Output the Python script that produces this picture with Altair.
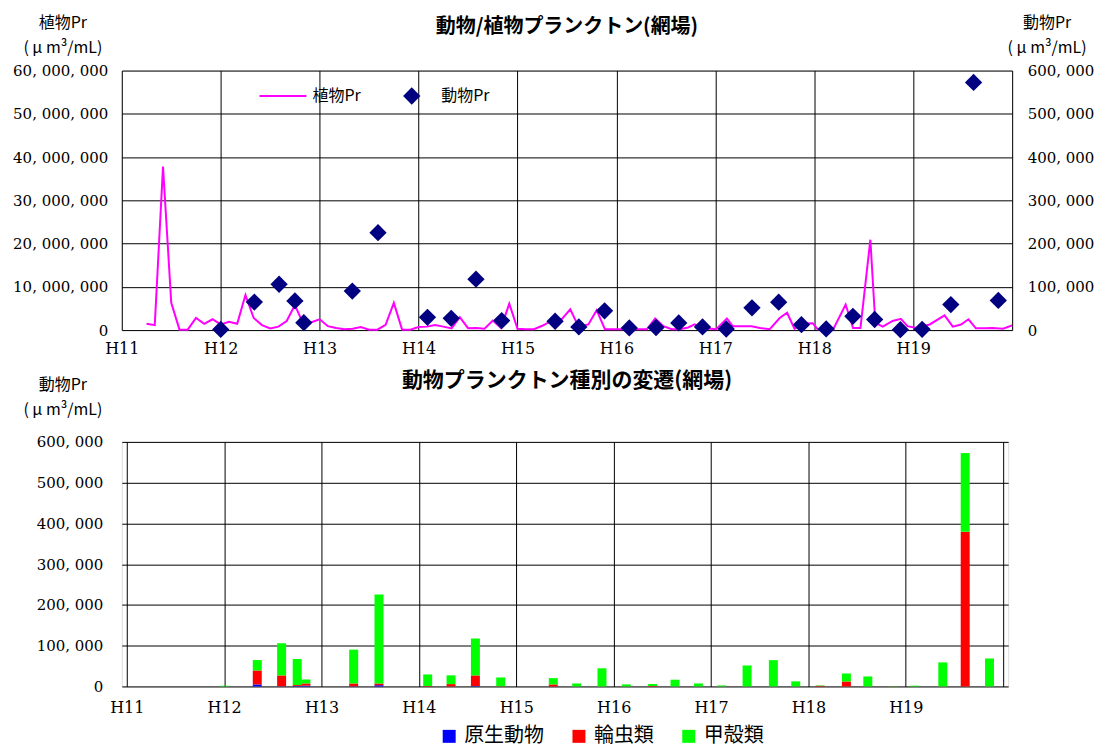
import altair as alt
import pandas as pd

# ---------------- data ----------------
# phytoplankton: month offset from H11 start, value (μm3/mL)
plant_month = [3, 4, 5, 6, 7, 8, 9, 10, 11, 12, 13, 14, 15, 16, 17, 18, 19, 20, 21, 22,
               23, 24, 25, 26, 27, 28, 29, 30, 31, 32, 33, 34, 35, 36, 37, 38, 39, 40, 41, 42,
               43, 44, 45, 46, 47, 48, 49, 50,
               51.0, 52.0, 53.4, 54.4, 55.4, 56.6, 57.6, 58.6, 59.6, 60.6, 61.6, 62.6, 63.7,
               64.7, 65.7, 66.7, 67.7, 68.7, 69.5, 70.5, 71.5, 72.1, 73.4, 74.1, 75.2, 76.4,
               77.4, 78.6, 79.8, 80.7, 81.6, 82.6, 83.8, 84.4, 85.4, 86.3, 87.8, 88.7, 89.6,
               90.8, 91.4, 92.3, 93.5, 94.5, 95.3, 96.4, 97.2, 98.0, 99.8, 100.8, 101.8, 102.7,
               103.6, 104.6, 105.6, 106.9, 108.0]
plant_value = [1450000, 1150000, 37800000, 6300000, 100000, 100000, 2800000, 1450000, 2500000, 1300000,
               1900000, 1450000, 8100000, 2800000, 1150000, 400000, 800000, 2100000, 5800000, 1500000,
               1800000, 2500000, 900000, 500000, 200000, 300000, 700000, 100000, 100000, 1200000,
               6300000, 100000, 100000, 700000, 800000, 1150000, 800000, 400000, 3000000, 450000,
               500000, 300000, 2200000, 500000, 6100000, 300000, 200000, 200000,
               1000000, 2000000, 2600000, 4800000, 800000, 1300000, 4600000, 200000, 200000, 200000,
               200000, 200000, 200000, 2700000, 900000, 200000, 200000, 600000, 1300000, 300000,
               300000, 200000, 2700000, 900000, 900000, 900000, 500000, 200000, 2800000, 4000000,
               300000, 1500000, 1600000, 200000, 200000, 200000, 5900000, 500000, 500000, 20900000,
               1700000, 800000, 2100000, 2600000, 900000, 500000, 900000, 1300000, 3400000, 800000,
               1300000, 2500000, 400000, 400000, 500000, 300000, 1100000]

# zooplankton sampling dates (year, H-era) and composition (μm3/mL)
zoo_date = [12.00, 12.34, 12.59, 12.75, 12.84, 13.33, 13.59, 14.09, 14.33, 14.58,
            14.84, 15.38, 15.62, 15.88, 16.13, 16.40, 16.63, 16.87, 17.11, 17.37,
            17.64, 17.87, 18.12, 18.39, 18.61, 18.87, 19.09, 19.38, 19.61, 19.86]
protozoa = [0, 4900, 500, 1000, 2000, 500, 3000, 0, 0, 1000,
            0, 0, 0, 0, 0, 0, 0, 0, 0, 0,
            0, 0, 0, 0, 0, 0, 0, 0, 0, 0]
rotifer = [0, 34300, 26500, 2300, 5300, 6800, 4300, 1000, 5700, 26000,
           500, 4900, 0, 0, 0, 1000, 0, 0, 0, 0,
           0, 0, 1600, 12200, 0, 300, 0, 0, 379600, 0]
crustacean = [1600, 25500, 79000, 64000, 9800, 83000, 218000, 28400, 21500, 90600,
              21500, 15500, 7300, 44500, 5000, 5000, 16500, 7300, 2500, 51400,
              64500, 12500, 1000, 19600, 24500, 700, 1800, 59000, 193000, 68600]

years = [11, 12, 13, 14, 15, 16, 17, 18, 19, 20]
left_ticks = [0, 10000000, 20000000, 30000000, 40000000, 50000000, 60000000]
right_ticks = [0, 100000, 200000, 300000, 400000, 500000, 600000]
species = ["原生動物", "輪虫類", "甲殻類"]
species_colors = ["#0000FF", "#FF0000", "#00FF00"]

SANS = "Noto Sans CJK JP"
SERIF = "DejaVu Serif"
W_TOP, H_TOP = 892, 260
W_BOT, H_BOT = 888, 245

# ---------------- tables ----------------
plant_df = pd.DataFrame({"t": [11 + m / 12 for m in plant_month],
                         "v": plant_value,
                         "s": ["植物Pr"] * len(plant_month)})
zoo_total = [a + b + c for a, b, c in zip(protozoa, rotifer, crustacean)]
zoo_df = pd.DataFrame({"t": zoo_date, "v": zoo_total, "s": ["動物Pr"] * len(zoo_date)})
rows = []
for t, a, b, c in zip(zoo_date, protozoa, rotifer, crustacean):
    for k, (name, val) in enumerate(zip(species, (a, b, c))):
        rows.append({"t": t, "sp": name, "v": val, "ord": k})
bar_df = pd.DataFrame(rows)

comma_expr = "replace(format(datum.value, ','), regexp(',', 'g'), ', ')"
x_label_expr = "datum.value < 20 ? 'H' + datum.value : ''"


def x_axis(pad):
    return alt.Axis(values=years, labelExpr=x_label_expr, grid=True, gridColor="#000000",
                    gridWidth=1, ticks=False, domain=False, labelFont=SERIF, labelFontSize=16,
                    labelPadding=pad, labelColor="#000000", title=None, labelFlush=False,
                    labelOverlap=False)


def y_axis(values, pad, orient="left", grid=True):
    return alt.Axis(values=values, labelExpr=comma_expr, grid=grid, gridColor="#000000",
                    gridWidth=1, ticks=False, domain=False, labelFont=SERIF, labelFontSize=15,
                    labelPadding=pad, labelColor="#000000", title=None, orient=orient,
                    labelFlush=False, labelOverlap=False)


def label(text, x, y, size, weight="normal"):
    return alt.Chart(alt.Data(values=[{"a": 1}])).mark_text(
        text=text, x=x, y=y, font=SANS, fontSize=size, fontWeight=weight,
        align="center", baseline="middle", color="#000000")


x_scale = alt.Scale(domain=[11, 20], nice=False, zero=False)

# invisible spacer that keeps the room above the top plot
spacer = alt.Chart(alt.Data(values=[{"a": 1}])).mark_rule(color="white", strokeWidth=1).encode(
    x=alt.value(300), y=alt.value(-61), y2=alt.value(-60))

# ---------------- top panel ----------------
line = alt.Chart(plant_df).mark_line(strokeWidth=2).encode(
    x=alt.X("t:Q", scale=x_scale, axis=x_axis(10)),
    y=alt.Y("v:Q", scale=alt.Scale(domain=[0, 60000000], nice=False),
            axis=y_axis(left_ticks, 14)),
    color=alt.Color("s:N", scale=alt.Scale(domain=["植物Pr"], range=["#FF00FF"]),
                    legend=alt.Legend(title=None, orient="none", legendX=137, legendY=1,
                                      symbolType="stroke", symbolSize=2209,
                                      symbolStrokeWidth=2, labelFont=SANS, labelFontSize=16,
                                      labelOffset=5, padding=0, labelColor="#000000")),
)
pts = alt.Chart(zoo_df).mark_point(shape="diamond", filled=True, size=300, opacity=1).encode(
    x=alt.X("t:Q", scale=x_scale, axis=x_axis(10)),
    y=alt.Y("v:Q", scale=alt.Scale(domain=[0, 600000], nice=False),
            axis=y_axis(right_ticks, 15, orient="right", grid=False)),
    color=alt.Color("s:N", scale=alt.Scale(domain=["動物Pr"], range=["#000080"]),
                    legend=alt.Legend(title=None, orient="none", legendX=281, legendY=16,
                                      symbolType="diamond", symbolSize=300,
                                      labelFont=SANS, labelFontSize=16, labelOffset=20,
                                      padding=0, labelColor="#000000")),
)
top = alt.layer(
    line, pts, spacer,
    label("動物/植物プランクトン(網場)", W_TOP / 2, -44, 20, "bold"),
    label("植物Pr", -59, -48, 16),
    label("( μ m³/mL)", -59, -23, 16),
    label("動物Pr", 927, -48, 16),
    label("( μ m³/mL)", 927, -23, 16),
).resolve_scale(y="independent", color="independent").properties(width=W_TOP, height=H_TOP)

# ---------------- bottom panel ----------------
bars = alt.Chart(bar_df).mark_bar(size=9).encode(
    x=alt.X("t:Q", scale=x_scale, axis=x_axis(13)),
    y=alt.Y("v:Q", stack="zero", scale=alt.Scale(domain=[0, 600000], nice=False),
            axis=y_axis(right_ticks, 19)),
    color=alt.Color("sp:N", scale=alt.Scale(domain=species, range=species_colors),
                    legend=alt.Legend(title=None, orient="none", direction="horizontal",
                                      legendX=318, legendY=H_BOT + 40, symbolType="square",
                                      symbolSize=169, symbolStrokeWidth=0,
                                      labelFont=SANS, labelFontSize=20, labelOffset=5,
                                      columnPadding=25, padding=0, labelColor="#000000")),
    order=alt.Order("ord:Q", sort="ascending"),
)
bottom = alt.layer(
    bars,
    label("動物プランクトン種別の変遷(網場)", W_BOT / 2 + 2, -61, 21, "bold"),
    label("動物Pr", -59, -57, 16),
    label("( μ m³/mL)", -59, -32, 16),
).properties(width=W_BOT, height=H_BOT)

chart = alt.vconcat(top, bottom, spacing=12).resolve_scale(color="independent").properties(
    padding={"left": 4, "top": 0, "right": 2, "bottom": 0}
).configure_view(stroke="#000000", strokeWidth=2).configure(background="white")

chart.save("out.html", embed_options={"renderer": "svg", "actions": False})
